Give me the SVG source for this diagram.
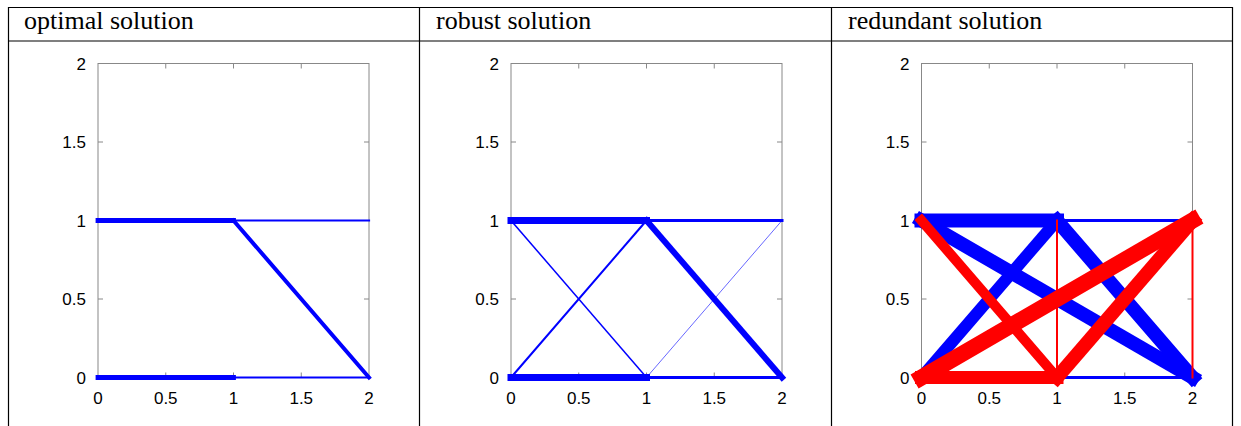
<svg xmlns="http://www.w3.org/2000/svg" width="1241" height="426" viewBox="0 0 1241 426">
<style>
.tbl{stroke:#000;stroke-width:1.2;fill:none}
.hdr{font-family:"Liberation Serif","Times New Roman",serif;font-size:26px;fill:#000}
.axis{fill:none;stroke:#888;stroke-width:1}
.tick{stroke:#888;stroke-width:1}
.tl{font-family:"Liberation Sans",Arial,sans-serif;font-size:17px;fill:#000}
.b{stroke:#0000ff;fill:none;stroke-linecap:square}
.r{stroke:#ff0000;fill:none;stroke-linecap:square}
</style>
<defs>
<g id="frame">
<rect class="axis" x="0" y="-314" width="271" height="314"/>
<path class="tick" d="M67.75 0v-5M135.5 0v-5M203.25 0v-5M67.75 -314v5M135.5 -314v5M203.25 -314v5M0 -78.5h5M0 -157h5M0 -235.5h5M271 -78.5h-5M271 -157h-5M271 -235.5h-5"/>
<g class="tl" text-anchor="end">
<text x="-12" y="6">0</text>
<text x="-12" y="-72.5">0.5</text>
<text x="-12" y="-151">1</text>
<text x="-12" y="-229.5">1.5</text>
<text x="-12" y="-308">2</text>
</g>
<g class="tl" text-anchor="middle">
<text x="0" y="26.5">0</text>
<text x="67.75" y="26.5">0.5</text>
<text x="135.5" y="26.5">1</text>
<text x="203.25" y="26.5">1.5</text>
<text x="271" y="26.5">2</text>
</g>
</g>
</defs>
<g id="table">
<path class="tbl" d="M8 7.5H1233M8 41H1233M8.5 7V426M419.5 7V426M831.5 7V426M1232.5 7V426"/>
<text class="hdr" x="24" y="29">optimal solution</text>
<text class="hdr" x="436" y="29">robust solution</text>
<text class="hdr" x="848" y="29">redundant solution</text>
</g>
<g id="plot-optimal" transform="translate(98,377.5)">
<use href="#frame"/>
<g id="connectors-optimal">
<line class="b" x1="0" y1="-157" x2="135.5" y2="-157" stroke-width="4.8"/>
<line class="b" x1="135.5" y1="-157" x2="271" y2="-157" stroke-width="2.2"/>
<line class="b" x1="135.5" y1="-157" x2="271" y2="0" stroke-width="4"/>
<line class="b" x1="0" y1="0" x2="135.5" y2="0" stroke-width="4.8"/>
<line class="b" x1="135.5" y1="0" x2="271" y2="0" stroke-width="2"/>
</g>
</g>
<g id="plot-robust" transform="translate(511,377.5)">
<use href="#frame"/>
<g id="connectors-robust">
<line class="b" x1="135.5" y1="0" x2="271" y2="-157" stroke-width="0.6"/>
<line class="b" x1="0" y1="-157" x2="135.5" y2="0" stroke-width="1.5"/>
<line class="b" x1="0" y1="0" x2="135.5" y2="-157" stroke-width="2"/>
<line class="b" x1="0" y1="-157" x2="135.5" y2="-157" stroke-width="7"/>
<line class="b" x1="135.5" y1="-157" x2="271" y2="-157" stroke-width="3"/>
<line class="b" x1="135.5" y1="-157" x2="271" y2="0" stroke-width="6"/>
<line class="b" x1="0" y1="0" x2="135.5" y2="0" stroke-width="7"/>
<line class="b" x1="135.5" y1="0" x2="271" y2="0" stroke-width="3"/>
</g>
</g>
<g id="plot-redundant" transform="translate(921.5,377.5)">
<use href="#frame"/>
<g id="connectors-redundant">
<line class="b" x1="135.5" y1="-157" x2="271" y2="-157" stroke-width="3"/>
<line class="b" x1="135.5" y1="0" x2="271" y2="0" stroke-width="3"/>
<line class="b" x1="0" y1="0" x2="135.5" y2="-157" stroke-width="12"/>
<line class="b" x1="0" y1="-157" x2="271" y2="0" stroke-width="14"/>
<line class="b" x1="135.5" y1="-157" x2="271" y2="0" stroke-width="14"/>
<line class="b" x1="0" y1="-157" x2="135.5" y2="-157" stroke-width="14"/>
<line class="r" x1="135.5" y1="0" x2="135.5" y2="-157" stroke-width="2"/>
<line class="r" x1="271" y1="0" x2="271" y2="-157" stroke-width="2"/>
<line class="r" x1="0" y1="-157" x2="135.5" y2="0" stroke-width="10"/>
<line class="r" x1="0" y1="0" x2="271" y2="-157" stroke-width="16"/>
<line class="r" x1="135.5" y1="0" x2="271" y2="-157" stroke-width="14"/>
<line class="r" x1="0" y1="0" x2="135.5" y2="0" stroke-width="13"/>
</g>
</g>
</svg>
